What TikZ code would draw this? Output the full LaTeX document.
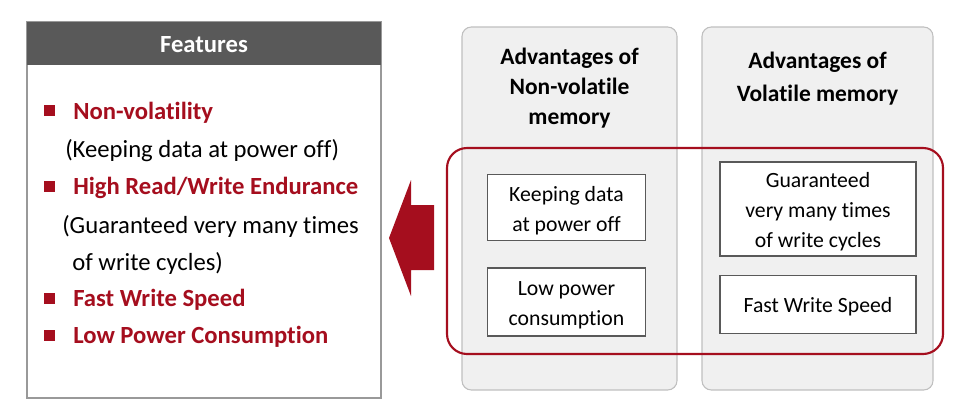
\documentclass[tikz,border=0pt]{standalone}
\usepackage{fontspec}
\setmainfont{Carlito}[Ligatures=NoCommon]
\usetikzlibrary{positioning}

\definecolor{fjred}{HTML}{A50E1E}
\definecolor{headgray}{HTML}{595959}
\definecolor{panelfill}{HTML}{F0F0F0}
\definecolor{panelline}{HTML}{BFBFBF}
\definecolor{boxline}{HTML}{595959}

\tikzset{
  panel/.style={draw=panelline, fill=panelfill, rounded corners=7pt, line width=0.8pt},
  paneltitle/.style={font=\fontsize{17.6}{24.5}\selectfont\bfseries, align=center},
  advbox/.style={draw=boxline, fill=white, line width=0.8pt, inner sep=0pt},
  advtext/.style={align=center, font=\fontsize{16.3}{22.5}\selectfont, inner sep=0pt},
  featred/.style={anchor=west, text=fjred, font=\fontsize{18.5}{20}\selectfont\bfseries, inner sep=0pt},
  featnote/.style={anchor=west, font=\fontsize{18.5}{20}\selectfont, inner sep=0pt},
}

\begin{document}
\begin{tikzpicture}[x=0.75pt, y=-0.75pt]
	\useasboundingbox (0,0) rectangle (962,410);
	% Features box
	\draw[panelline!80!black, line width=0.9pt] (27,22) rectangle (381,398);
	\fill[headgray] (27,22) rectangle (381,65);
	\node (feathead) [text=white, font=\fontsize{18.5}{20}\selectfont\bfseries] at (204,45) {Features};
	% Bullets
	\foreach \y in {110,186,298,335}
		\fill[fjred] (43.5,\y-5.5) rectangle +(11,11);
	\node (nonvol) [featred] at (73,113) {Non-volatility};
	\node (nonvolnote) [featnote] at (65,151) {(Keeping data at power off)};
	\node (endur) [featred] at (73,188) {High Read/Write Endurance};
	\node (endurnote) [featnote] at (62,226) {(Guaranteed very many times};
	\node (endurnotetwo) [featnote] at (72,263) {of write cycles)};
	\node (speed) [featred] at (73,300) {Fast Write Speed};
	\node (power) [featred] at (73,337) {Low Power Consumption};
	% Arrow
	\fill[fjred] (389,238) -- (411,180) -- (411,205) -- (434,205) -- (434,270)
		-- (411,270) -- (411,296) -- cycle;
	% Panels
	\draw[panel] (462,27) rectangle (677,390);
	\draw[panel] (702,27) rectangle (933,390);
	\node (nvtitle) [paneltitle, font=\fontsize{17.6}{22.5}\selectfont\bfseries] at (569.5,88) {Advantages of\\Non-volatile\\memory};
	\node (vtitle) [paneltitle] at (817.5,78.5) {Advantages of\\Volatile memory};
	% Red frame
	\draw[fjred, line width=1.6pt, rounded corners=15pt] (447,148) rectangle (943,354);
	% Boxes
	\node (keep) [advbox, minimum width=119pt, minimum height=50pt] at (566.5,207.5) {};
	\node (lowpow) [advbox, minimum width=119pt, minimum height=51pt] at (566.5,302) {};
	\node (guar) [advbox, minimum width=147pt, minimum height=70.5pt] at (818,209) {};
	\node (fast) [advbox, minimum width=147pt, minimum height=44pt] at (818,304.5) {};
	\node (keeptext) [advtext] at ([yshift=-2.2pt]keep.center) {Keeping data\\at power off};
	\node (lowpowtext) [advtext] at ([yshift=-2.2pt]lowpow.center) {Low power\\consumption};
	\node (guartext) [advtext] at ([yshift=-2.2pt]guar.center) {Guaranteed\\very many times\\of write cycles};
	\node (fasttext) [advtext] at ([yshift=-1.5pt]fast.center) {Fast Write Speed};
\end{tikzpicture}
\end{document}
